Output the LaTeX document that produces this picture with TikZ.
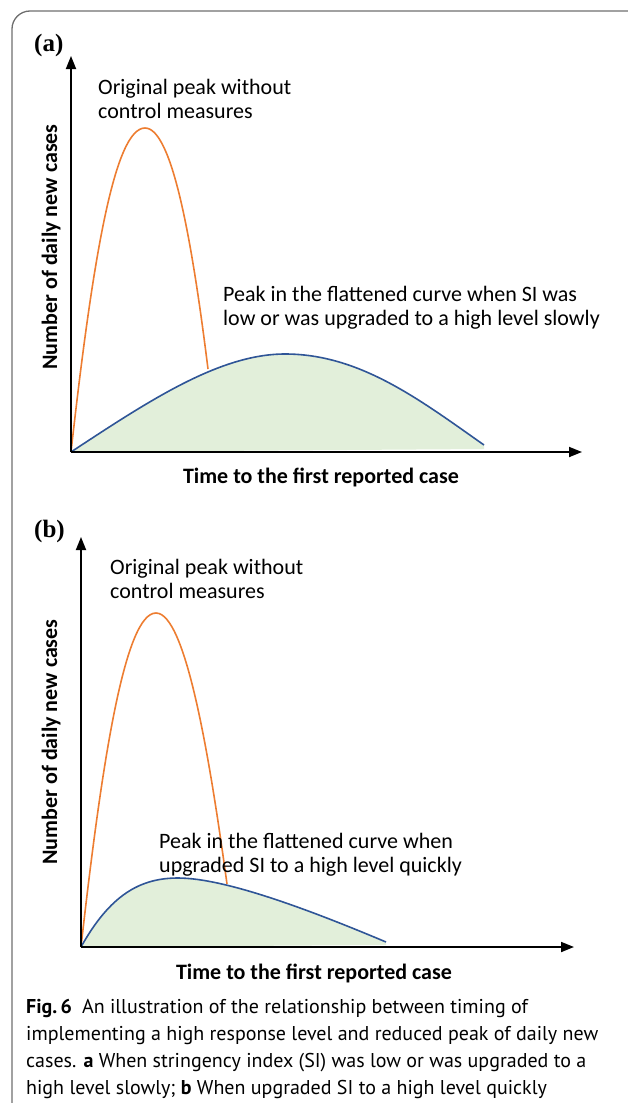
\documentclass[tikz,border=0pt]{standalone}
\usepackage{fontspec}
\setmainfont{Carlito}
\newfontfamily\capfont{PT Sans}
\newfontfamily\serifbold{Liberation Serif}
\usetikzlibrary{arrows.meta}
\definecolor{orangec}{HTML}{ED7D31}
\definecolor{bluec}{HTML}{2F5597}
\definecolor{greenf}{HTML}{E2EFDA}
\definecolor{framec}{HTML}{6E6E6E}
\begin{document}
\begin{tikzpicture}[x=1pt,y=-1pt,
  axisline/.style={line width=1.8pt,-{Triangle[length=13pt,width=10pt]}},
  peakorig/.style={orangec,line width=1.6pt},
  peakflat/.style={bluec,line width=1.6pt},
  flatfill/.style={fill=greenf,draw=none},
  lbl/.style={inner sep=0pt,anchor=base west,font=\fontsize{22}{24}\selectfont},
  axlbl/.style={inner sep=0pt,anchor=base,font=\fontsize{22}{24}\selectfont\bfseries},
  panel/.style={inner sep=0pt,anchor=base west,font=\fontsize{25}{27}\selectfont\serifbold\bfseries}]
\useasboundingbox (0,0) rectangle (627,1103);
% frame
\draw[framec,line width=1.3pt,rounded corners=18pt] (40,1121) -- (12,1121) -- (12,11) -- (650,11);

% ---------- panel (a) ----------
\coordinate (oa) at (71,452);
\coordinate (ya) at (71,56);
\coordinate (xa) at (582,452);
\coordinate (opa) at (145,128);
\coordinate (oea) at (208,369);
\coordinate (fpa) at (285,354);
\coordinate (fea) at (484,445);
\fill[flatfill] (oa) .. controls (150,400) and (220,354) .. (fpa)
   .. controls (360,354) and (420,400) .. (fea) -- (484,449) -- cycle;
\draw[peakorig] (oa) .. controls (93,255) and (115,128) .. (opa)
   .. controls (172,128) and (192,240) .. (oea);
\draw[peakflat] (oa) .. controls (150,400) and (220,354) .. (fpa)
   .. controls (360,354) and (420,400) .. (fea);
\draw[axisline] (oa) -- (ya);
\draw[axisline] (oa) -- (xa);
\node[panel] (pa) at (34,51) {(a)};
\node[lbl,align=left] (la1) at (98,118) {Original peak without\\control measures};
\node[lbl,align=left] (la2) at (223,325) {Peak in the flattened curve when SI was\\low or was upgraded to a high level slowly};
\node[axlbl] (xla) at (321,483) {Time to the first reported case};
\node[axlbl,rotate=90] (yla) at (57,247) {Number of daily new cases};

% ---------- panel (b) ----------
\coordinate (ob) at (81,947);
\coordinate (yb) at (81,537);
\coordinate (xb) at (574,947);
\coordinate (opb) at (156,613);
\coordinate (oeb) at (227,884);
\coordinate (fpb) at (178,878);
\coordinate (feb) at (386,942);
\fill[flatfill] (ob) .. controls (110,895) and (140,878) .. (fpb)
   .. controls (225,878) and (310,910) .. (feb) -- (386,945) -- cycle;
\draw[peakorig] (ob) .. controls (102,760) and (125,613) .. (opb)
   .. controls (186,613) and (210,760) .. (oeb);
\draw[peakflat] (ob) .. controls (110,895) and (140,878) .. (fpb)
   .. controls (225,878) and (310,910) .. (feb);
\draw[axisline] (ob) -- (yb);
\draw[axisline] (ob) -- (xb);
\node[panel] (pb) at (34,537) {(b)};
\node[lbl,align=left] (lb1) at (110,598) {Original peak without\\control measures};
\node[lbl,align=left] (lb2) at (159,872) {Peak in the flattened curve when\\upgraded SI to a high level quickly};
\node[axlbl] (xlb) at (314,979) {Time to the first reported case};
\node[axlbl,rotate=90] (ylb) at (57,742) {Number of daily new cases};

% ---------- caption ----------
\node[inner sep=0pt,anchor=base west,align=left,
      font=\fontsize{20}{27}\selectfont\capfont] (cap) at (26,1094)
 {\textbf{Fig.\,6}\enspace An illustration of the relationship between timing of\\
  implementing a high response level and reduced peak of daily new\\
  cases. \textbf{a} When stringency index (SI) was low or was upgraded to a\\
  high level slowly; \textbf{b} When upgraded SI to a high level quickly};
\end{tikzpicture}
\end{document}
